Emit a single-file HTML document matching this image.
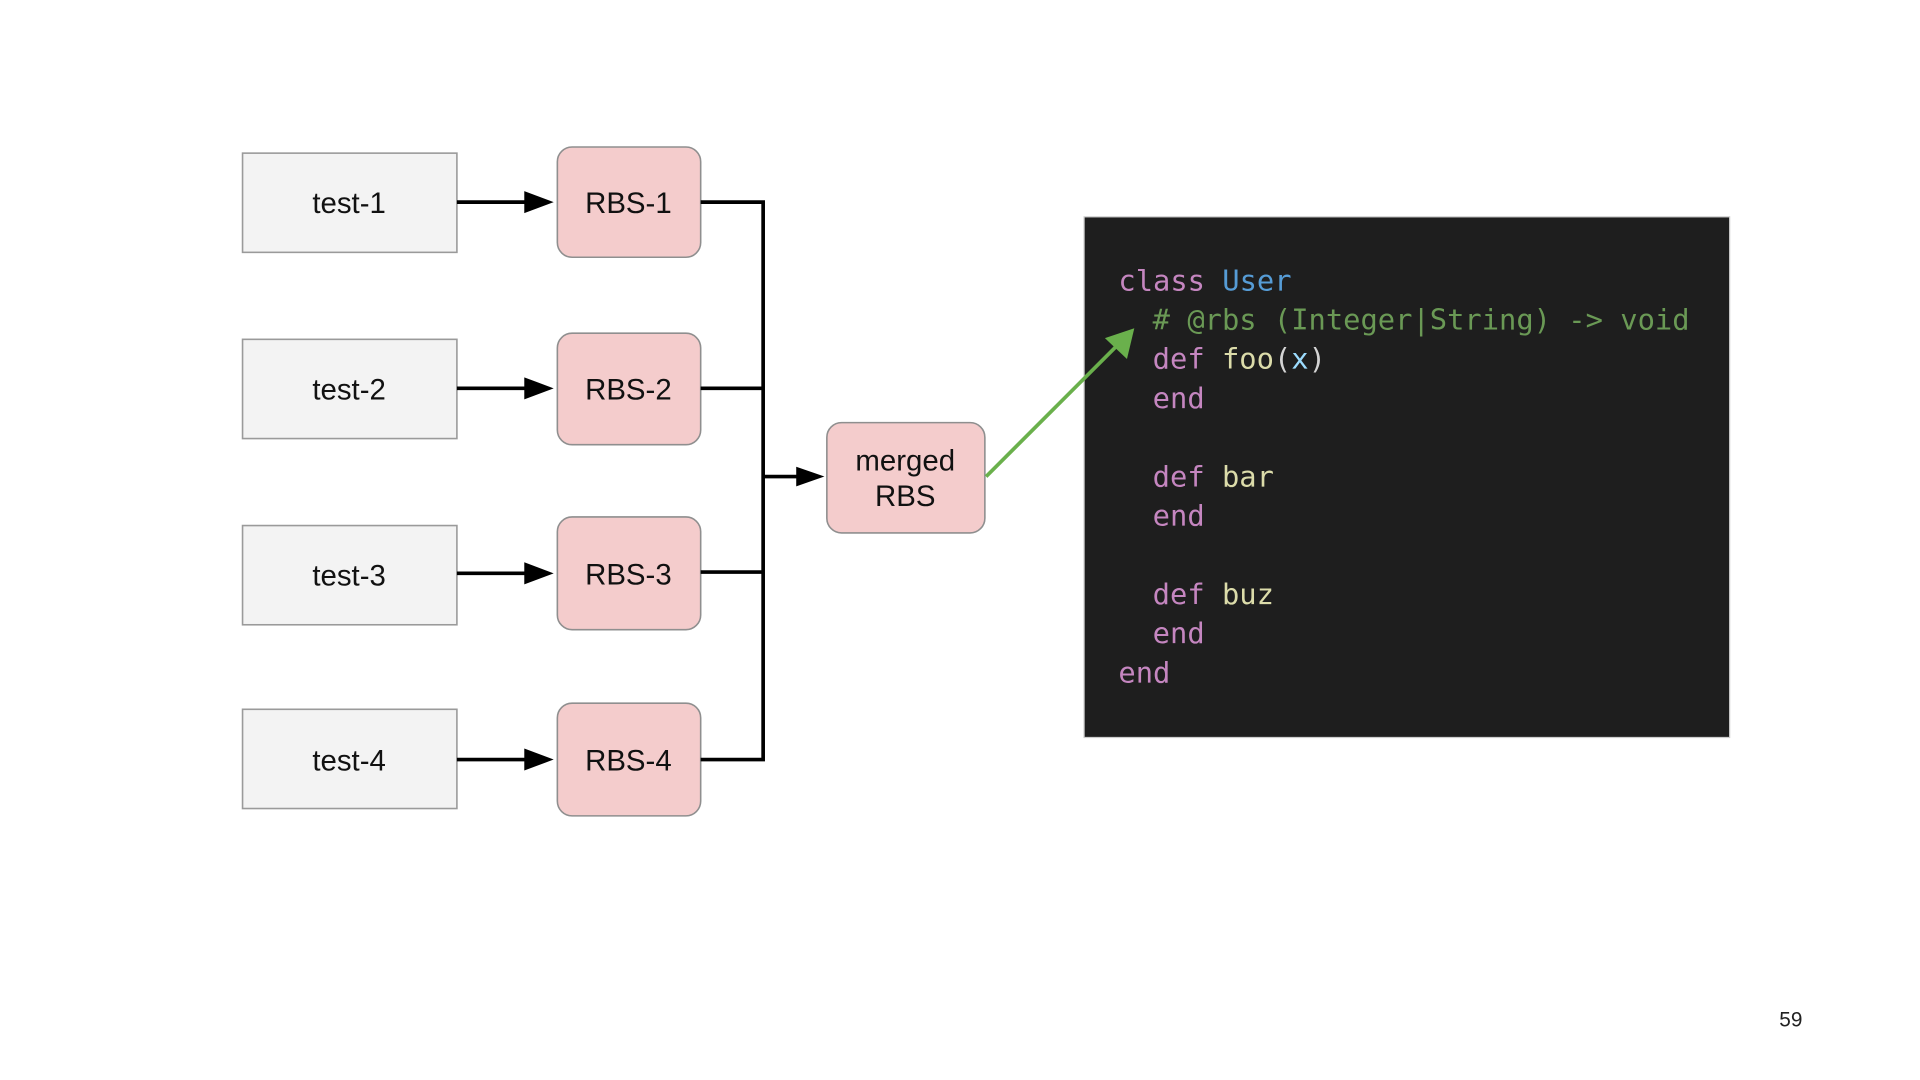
<!DOCTYPE html>
<html><head><meta charset="utf-8"><style>
html,body{margin:0;padding:0;background:#fff;}
svg{display:block;}
</style></head><body>
<svg width="1920" height="1080" viewBox="0 0 1567.4 881.6" preserveAspectRatio="none" xmlns="http://www.w3.org/2000/svg">
<rect width="1568" height="882" fill="#fff"/>
<g fill="#f3f3f3" stroke="#9a9a9a" stroke-width="1.3">
<rect x="198" y="125" width="175" height="81"/>
<rect x="198" y="277" width="175" height="81"/>
<rect x="198" y="429" width="175" height="81"/>
<rect x="198" y="579" width="175" height="81"/>
</g>
<g fill="#f4cccc" stroke="#8f8f8f" stroke-width="1.3">
<rect x="455" y="120" width="117" height="90" rx="12"/>
<rect x="455" y="272" width="117" height="91" rx="12"/>
<rect x="455" y="422" width="117" height="92" rx="12"/>
<rect x="455" y="574" width="117" height="92" rx="12"/>
<rect x="675" y="345" width="129" height="90" rx="12"/>
</g>
<g stroke="#000" stroke-width="3" fill="none">
<path d="M373 165 H440" />
<path d="M373 317 H440" />
<path d="M373 468 H440" />
<path d="M373 620 H440" />
<path d="M572 165 H623 V620 H572 M572 317 H623 M572 467 H623 M623 389 H660"/>
</g>
<g fill="#000">
<path d="M428 156 L452 165 L428 174 z"/>
<path d="M428 308 L452 317 L428 326 z"/>
<path d="M428 459 L452 468 L428 477 z"/>
<path d="M428 611 L452 620 L428 629 z"/>
<path d="M650 381 L673 389 L650 397 z"/>
</g>
<g font-family="Liberation Sans, Arial, sans-serif" font-size="24" fill="#111" text-anchor="middle">
<text x="285" y="174">test-1</text>
<text x="285" y="326">test-2</text>
<text x="285" y="478">test-3</text>
<text x="285" y="629">test-4</text>
<text x="513" y="174">RBS-1</text>
<text x="513" y="326">RBS-2</text>
<text x="513" y="477">RBS-3</text>
<text x="513" y="629">RBS-4</text>
<text x="739" y="384">merged</text>
<text x="739" y="413">RBS</text>
</g>
<rect x="885" y="177" width="527" height="425" fill="#1e1e1e" stroke="#ccc" stroke-width="1"/>
<path d="M805 389 L915 279" stroke="#6ab04c" stroke-width="3"/>
<path d="M926 268 L920 293 L902 276 z" fill="#6ab04c"/>
<g font-family="DejaVu Sans Mono, Liberation Mono, monospace" font-size="23.5" xml:space="preserve">
<text x="913" y="237"><tspan fill="#c586c0">class</tspan> <tspan fill="#569cd6">User</tspan></text>
<text x="941" y="269" fill="#6a9955"># @rbs (Integer|String) -&gt; void</text>
<text x="941" y="301"><tspan fill="#c586c0">def</tspan> <tspan fill="#dcdcaa">foo</tspan><tspan fill="#d4d4d4">(</tspan><tspan fill="#9cdcfe">x</tspan><tspan fill="#d4d4d4">)</tspan></text>
<text x="941" y="333" fill="#c586c0">end</text>
<text x="941" y="397"><tspan fill="#c586c0">def</tspan> <tspan fill="#dcdcaa">bar</tspan></text>
<text x="941" y="429" fill="#c586c0">end</text>
<text x="941" y="493"><tspan fill="#c586c0">def</tspan> <tspan fill="#dcdcaa">buz</tspan></text>
<text x="941" y="525" fill="#c586c0">end</text>
<text x="913" y="557" fill="#c586c0">end</text>
</g>
<text x="1462" y="838" font-family="Liberation Sans, sans-serif" font-size="17" fill="#222" text-anchor="middle">59</text>
</svg>
</body></html>
